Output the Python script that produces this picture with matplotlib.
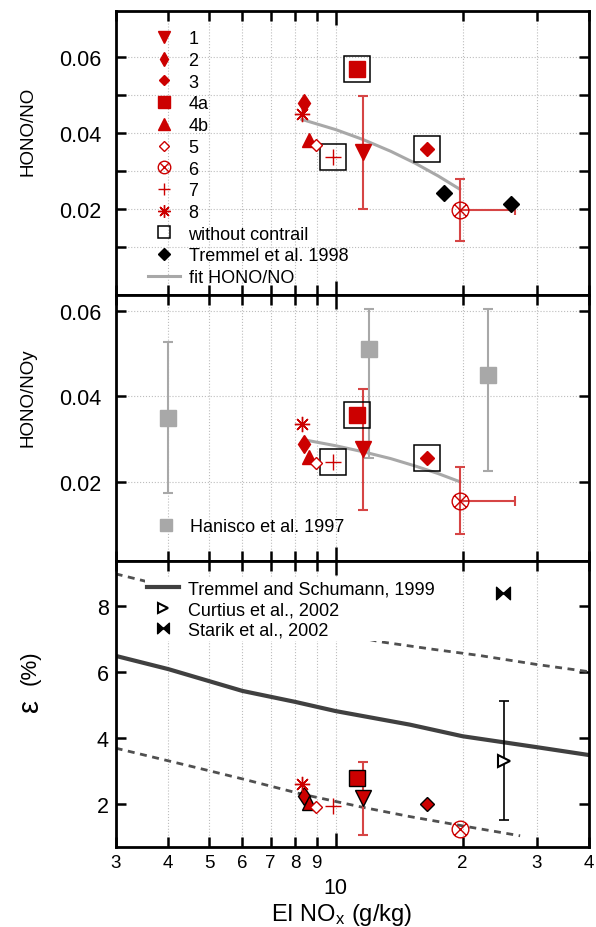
import numpy as np
import matplotlib
matplotlib.use('Agg')
import matplotlib.pyplot as plt
from matplotlib.lines import Line2D
from matplotlib.path import Path
from matplotlib.ticker import FixedLocator, FixedFormatter, NullFormatter

plt.rcParams['font.family'] = ['Liberation Sans', 'DejaVu Sans']
plt.rcParams['mathtext.default'] = 'regular'

# ---- data ----
flights = ['1', '2', '3', '4a', '4b', '5', '6', '7', '8']
ei_nox = [11.6, 8.4, 16.5, 11.2, 8.65, 8.97, 19.7, 9.85, 8.32]
hono_no = [0.0348, 0.0479, 0.0356, 0.0569, 0.0382, 0.0367, 0.0196, 0.0337, 0.0448]
hono_noy = [0.0276, 0.0287, 0.0255, 0.0356, 0.0257, 0.0244, 0.0156, 0.0245, 0.0335]
eps = [2.17, 2.25, 2.00, 2.78, 2.03, 1.90, 1.26, 1.93, 2.60]
no_contrail = ['3', '4a', '7']

# error bars: flight 1 (y), flight 6 (y and EI NOx upper)
no_err = {'1': 0.0148, '6': 0.0081}
noy_err = {'1': 0.0141, '6': 0.0079}
eps_err = {'1': 1.1}
ei_err_hi = {'6': 6.9}

fit_no_x = [8.3, 10, 11.6, 13.5, 15.4, 17.5, 19.7]
fit_no_y = [0.0435, 0.0408, 0.0382, 0.0351, 0.0320, 0.0286, 0.0251]
fit_noy_x = [8.4, 10, 11.6, 13.5, 15.4, 17.5, 19.7]
fit_noy_y = [0.0298, 0.0284, 0.0270, 0.0254, 0.0237, 0.0219, 0.0200]

tremmel98_x = [18.1, 26.1]
tremmel98_y = [0.0240, 0.0211]

hanisco_x = [4.0, 11.97, 23.0]
hanisco_y = [0.0348, 0.0509, 0.0450]
hanisco_lo = [0.0174, 0.0254, 0.0226]
hanisco_hi = [0.0178, 0.0095, 0.0154]

ts99_x = [3, 4, 6, 8, 10, 15, 20, 30, 40]
ts99_y = [6.48, 6.08, 5.42, 5.09, 4.81, 4.40, 4.05, 3.72, 3.48]
ts99_up_x = [3, 3.5, 5, 8, 12.7, 17, 22, 30, 40]
ts99_up_y = [8.96, 8.75, 8.15, 7.45, 6.91, 6.68, 6.49, 6.22, 6.00]
ts99_lo_x = [3, 4.5, 6, 8.3, 11.6, 15, 19.4, 27.4]
ts99_lo_y = [3.69, 3.15, 2.76, 2.30, 1.90, 1.62, 1.37, 1.04]

curtius_x, curtius_y, curtius_err = [25.1], [3.31], [1.8]
starik_x, starik_y = [25.0], [8.375]

minor_ticks = [3, 4, 5, 6, 7, 8, 9, 20, 30, 40]
minor_labels = ['3', '4', '5', '6', '7', '8', '9', '2', '3', '4']

# ---- styles ----
RED = '#cc0000'
ERR_RED = '#d64545'
GRAY = '#a8a8a8'

circ = Path.unit_circle()
d = 0.70
circx = Path(np.concatenate([circ.vertices, [[-d, -d], [d, d], [-d, d], [d, -d]]]),
             np.concatenate([circ.codes, [Path.MOVETO, Path.LINETO, Path.MOVETO, Path.LINETO]]))
bowtie = Path([(-1, 0.9), (-1, -0.9), (0, 0), (-1, 0.9), (1, 0.9), (1, -0.9), (0, 0), (1, 0.9)],
              [Path.MOVETO, Path.LINETO, Path.LINETO, Path.CLOSEPOLY,
               Path.MOVETO, Path.LINETO, Path.LINETO, Path.CLOSEPOLY])

style = {
    '1': dict(marker='v', ms=11.3, mfc=RED, mec=RED),
    '2': dict(marker='d', ms=9.5, mfc=RED, mec=RED),
    '3': dict(marker='D', ms=7.3, mfc=RED, mec=RED),
    '4a': dict(marker='s', ms=11.5, mfc=RED, mec=RED),
    '4b': dict(marker='^', ms=10.5, mfc=RED, mec=RED),
    '5': dict(marker='D', ms=6.5, mfc='white', mec=RED, mew=1),
    '6': dict(marker=circx, ms=12, mfc='none', mec=RED, mew=1),
    '7': dict(marker='+', ms=12, mfc=RED, mec=RED, mew=1),
    '8': dict(marker=(8, 2, 0), ms=11, mfc=RED, mec=RED, mew=1),
}
legend_ms = {'1': 8, '2': 7, '3': 5.5, '4a': 8, '4b': 8, '5': 5, '6': 9, '7': 9, '8': 9}

fig = plt.figure(figsize=(5.96, 9.28), dpi=100)
L, W = 115.7 / 596, (589.3 - 115.7) / 596
ax1 = fig.add_axes([L, 1 - 295.7 / 928, W, 284.2 / 928])
ax2 = fig.add_axes([L, 1 - 562.3 / 928, W, 266.6 / 928])
ax3 = fig.add_axes([L, 1 - 847.7 / 928, W, 285.4 / 928])


def setup(ax, labels, ypad):
    ax.set_xscale('log')
    ax.set_xlim(3, 40)
    ax.xaxis.set_major_locator(FixedLocator([10]))
    ax.xaxis.set_minor_locator(FixedLocator(minor_ticks))
    if labels:
        ax.xaxis.set_major_formatter(FixedFormatter(['10']))
        ax.xaxis.set_minor_formatter(FixedFormatter(minor_labels))
    else:
        ax.xaxis.set_major_formatter(NullFormatter())
        ax.xaxis.set_minor_formatter(NullFormatter())
    for s in ax.spines.values():
        s.set_linewidth(2.0)
    ax.tick_params(which='both', direction='in', top=True, right=True, width=1.8)
    ax.tick_params(axis='x', which='major', length=10, labelsize=15.5, pad=22)
    ax.tick_params(axis='x', which='minor', length=7, labelsize=13.5, pad=5)
    ax.tick_params(axis='y', which='major', length=7, labelsize=15.5, pad=ypad)
    ax.set_axisbelow(True)
    ax.grid(True, axis='x', which='both', ls=':', lw=0.8, color='#bdbdbd')


def draw_flights(ax, yvals, yerr, xerr_hi, edge=None, boxes=True):
    for f, x, y in zip(flights, ei_nox, yvals):
        if f in yerr:
            xe = [[0], [xerr_hi[f]]] if f in xerr_hi else None
            ax.errorbar([x], [y], yerr=[yerr[f]], xerr=xe, fmt='none', ecolor=ERR_RED,
                        elinewidth=1.5, capsize=3.5, capthick=1.5, zorder=3)
        st = dict(style[f])
        if edge is not None and st['mfc'] == RED and f not in ('7', '8'):
            st['mec'] = edge
            st['mew'] = 1.0
        ax.plot([x], [y], ls='none', zorder=5, **st)
        if boxes and f in no_contrail:
            ax.plot([x], [y], ls='none', marker='s', ms=18.5, mfc='none', mec='black',
                    mew=1.1, zorder=4)


# ---- panel 1: HONO/NO ----
setup(ax1, False, 10)
ax1.set_ylim(-0.0027, 0.0722)
ax1.yaxis.set_major_locator(FixedLocator([0.01, 0.02, 0.03, 0.04, 0.05, 0.06]))
ax1.yaxis.set_major_formatter(FixedFormatter(['', '0.02', '', '0.04', '', '0.06']))
ax1.grid(True, axis='y', ls=':', lw=0.8, color='#bdbdbd')
ax1.plot(fit_no_x, fit_no_y, color=GRAY, lw=2.2, zorder=2)
ax1.plot(tremmel98_x, tremmel98_y, ls='none', marker='D', ms=8, color='black', zorder=5)
draw_flights(ax1, hono_no, no_err, ei_err_hi)

handles = [Line2D([], [], ls='none', **dict(style[f], ms=legend_ms[f])) for f in flights]
handles.append(Line2D([], [], ls='none', marker='s', ms=9, mfc='none', mec='black', mew=1.1))
handles.append(Line2D([], [], ls='none', marker='D', ms=6.5, color='black'))
handles.append(Line2D([], [], color=GRAY, lw=2.2))
labels = flights + ['without contrail', 'Tremmel et al. 1998', 'fit HONO/NO']
ax1.legend(handles, labels, loc='upper left', bbox_to_anchor=(0.068, 0.93), frameon=False,
           fontsize=13, handlelength=1.75, handletextpad=0.5, labelspacing=0.26,
           borderpad=0, borderaxespad=0)

# ---- panel 2: HONO/NOy ----
setup(ax2, False, 10)
ax2.set_ylim(0.0014, 0.0637)
ax2.yaxis.set_major_locator(FixedLocator([0.02, 0.04, 0.06]))
ax2.yaxis.set_major_formatter(FixedFormatter(['0.02', '0.04', '0.06']))
ax2.grid(True, axis='y', ls=':', lw=0.8, color='#bdbdbd')
ax2.errorbar(hanisco_x, hanisco_y, yerr=[hanisco_lo, hanisco_hi], fmt='s', ms=11.5,
             color=GRAY, ecolor=GRAY, elinewidth=1.5, capsize=3.5, capthick=1.5, zorder=2)
ax2.plot(fit_noy_x, fit_noy_y, color=GRAY, lw=2.2, zorder=2)
draw_flights(ax2, hono_noy, noy_err, ei_err_hi)
ax2.legend([Line2D([], [], ls='none', marker='s', ms=9, color=GRAY)], ['Hanisco et al. 1997'],
           loc='upper left', bbox_to_anchor=(0.072, 0.162), frameon=False, fontsize=13,
           handlelength=1.75, handletextpad=0.5, borderpad=0, borderaxespad=0)

# ---- panel 3: epsilon ----
setup(ax3, True, 5)
ax3.set_ylim(0.71, 9.34)
ax3.yaxis.set_major_locator(FixedLocator([2, 4, 6, 8]))
ax3.plot(ts99_up_x, ts99_up_y, color='#505050', lw=2.0, ls=(0, (2.5, 2)), zorder=2)
ax3.plot(ts99_lo_x, ts99_lo_y, color='#505050', lw=2.0, ls=(0, (2.5, 2)), zorder=2)
ax3.plot(ts99_x, ts99_y, color='#404040', lw=3.0, zorder=2)
ax3.errorbar(curtius_x, curtius_y, yerr=curtius_err, fmt='none', ecolor='black',
             elinewidth=1.2, capsize=3.5, capthick=1.2, zorder=3)
ax3.plot(curtius_x, curtius_y, ls='none', marker='>', ms=8.5, mfc='white', mec='black',
         mew=1.5, zorder=5)
ax3.plot(starik_x, starik_y, ls='none', marker=bowtie, ms=10, color='black', zorder=5)
draw_flights(ax3, eps, eps_err, {}, edge='black', boxes=False)

h3 = [Line2D([], [], color='#404040', lw=3.0),
      Line2D([], [], ls='none', marker='>', ms=7, mfc='white', mec='black', mew=1.5),
      Line2D([], [], ls='none', marker=bowtie, ms=8.5, color='black')]
leg3 = ax3.legend(h3, ['Tremmel and Schumann, 1999', 'Curtius et al., 2002', 'Starik et al., 2002'],
                  loc='upper left', bbox_to_anchor=(0.062, 0.94), frameon=True, fancybox=False,
                  facecolor='white', edgecolor='none', framealpha=1, fontsize=13,
                  handlelength=1.75, handletextpad=0.5, labelspacing=0.2,
                  borderpad=0.12, borderaxespad=0)
leg3.set_zorder(4)

# ---- labels ----
fig.text(28 / 596, 1 - 131 / 928, 'HONO/NO', rotation=90, ha='center', va='center', fontsize=13.5)
fig.text(28 / 596, 1 - 398 / 928, 'HONO/NOy', rotation=90, ha='center', va='center', fontsize=13.5)
fig.text(30 / 596, 1 - 706 / 928, 'ε', rotation=90, ha='center', va='center', fontsize=21)
fig.text(30 / 596, 1 - 668 / 928, '(%)', rotation=90, ha='center', va='center', fontsize=16)
fig.text(342 / 596, 1 - 915 / 928, 'EI NO$_x$ (g/kg)', ha='center', va='center', fontsize=17)

fig.savefig('out.png', dpi=100)
